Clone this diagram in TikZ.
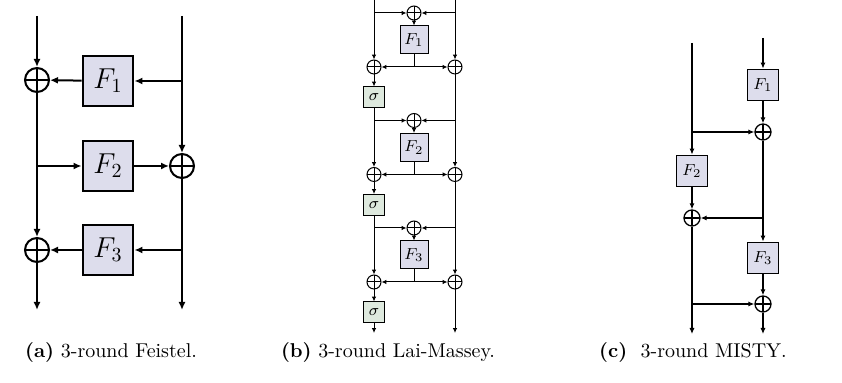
\documentclass[tikz,border=0pt]{standalone}
\usepackage{amsmath}
\usepackage{amssymb}
\usetikzlibrary{arrows.meta}

\definecolor{boxfill}{RGB}{221,221,236}
\definecolor{sigmafill}{RGB}{222,233,222}

\tikzset{
  xorop/.style={circle, draw, inner sep=0pt, minimum size=#1,
    path picture={\draw (path picture bounding box.north) -- (path picture bounding box.south)
      (path picture bounding box.west) -- (path picture bounding box.east);}},
  fbox/.style={draw, fill=boxfill, inner sep=0pt, minimum size=#1},
  sbox/.style={draw, fill=sigmafill, inner sep=0pt, minimum size=#1},
}

\begin{document}
\begin{tikzpicture}[x=0.5pt, y=-0.5pt]
  \useasboundingbox (0,0) rectangle (842,383);

  % (a) Feistel
  \begin{scope}[line width=1pt, >={Latex[length=4pt,width=3.5pt]},
                every node/.append style={font=\Large}]
    \node[xorop=12pt] (fx1) at (37,80) {};
    \node[xorop=12pt] (fxr) at (182,166) {};
    \node[xorop=12pt] (fx3) at (37,250) {};
    \node[fbox=25pt, line width=1.4pt] (ff1) at (108,81) {$F_1$};
    \node[fbox=25pt, line width=1.4pt] (ff2) at (108,166) {$F_2$};
    \node[fbox=25pt, line width=1.4pt] (ff3) at (108,250) {$F_3$};
    \coordinate (ftopL) at (37,16);
    \coordinate (ftopR) at (182,16);
    \coordinate (fbotL) at (37,310);
    \coordinate (fbotR) at (182,310);
    \coordinate (fr1) at (182,81);
    \coordinate (fl2) at (37,166);
    \coordinate (fr3) at (182,250);

    % the two branches
    \draw[->] (ftopL) -- (fx1);
    \draw[->] (fx1) -- (fx3);
    \draw[->] (fx3) -- (fbotL);
    \draw[->] (ftopR) -- (fxr);
    \draw[->] (fxr) -- (fbotR);

    % round functions
    \draw[->] (fr1) -- (ff1);
    \draw[->] (ff1) -- (fx1);
    \draw[->] (fl2) -- (ff2);
    \draw[->] (ff2) -- (fxr);
    \draw[->] (fr3) -- (ff3);
    \draw[->] (ff3) -- (fx3);
  \end{scope}

  % (b) Lai-Massey
  \begin{scope}[line width=0.5pt, >={Latex[length=2.4pt,width=2.2pt]},
                every node/.append style={font=\footnotesize}]
    \foreach \i [evaluate=\i as \y using {13+107.5*(\i-1)}] in {1,2,3} {
      \node[xorop=7pt] (lt\i) at (414,\y) {};
      \node[fbox=14pt, line width=0.5pt] (lf\i) at (414,\y+27) {$F_\i$};
      \node[xorop=7pt] (ll\i) at (374,\y+54) {};
      \node[xorop=7pt] (lr\i) at (455,\y+54) {};
      \node[sbox=10.5pt, line width=0.5pt] (ls\i) at (374,\y+84.5) {$\sigma$};
      \coordinate (la\i) at (374,\y);
      \coordinate (lb\i) at (455,\y);
      \coordinate (lj\i) at (414,\y+54);

      \draw[->] (la\i) -- (lt\i);
      \draw[->] (lb\i) -- (lt\i);
      \draw[->] (lt\i) -- (lf\i);
      \draw (lf\i) -- (lj\i);
      \draw[->] (lj\i) -- (ll\i);
      \draw[->] (lj\i) -- (lr\i);
      \draw[->] (ll\i) -- (ls\i);
    }
    \coordinate (ltopL) at (374,0);
    \coordinate (ltopR) at (455,0);
    \coordinate (lbotL) at (374,333);
    \coordinate (lbotR) at (455,333);

    % left and right branches
    \draw[->] (ltopL) -- (ll1);
    \draw[->] (ls1) -- (ll2);
    \draw[->] (ls2) -- (ll3);
    \draw[->] (ls3) -- (lbotL);
    \draw[->] (ltopR) -- (lr1);
    \draw[->] (lr1) -- (lr2);
    \draw[->] (lr2) -- (lr3);
    \draw[->] (lr3) -- (lbotR);
  \end{scope}

  % (c) MISTY
  \begin{scope}[line width=0.65pt, >={Latex[length=3pt,width=2.6pt]},
                every node/.append style={font=\footnotesize}]
    \node[fbox=15.5pt, line width=0.9pt] (mf1) at (763,85) {$F_1$};
    \node[fbox=15.5pt, line width=0.9pt] (mf2) at (692,171) {$F_2$};
    \node[fbox=15.5pt, line width=0.9pt] (mf3) at (763,258) {$F_3$};
    \node[xorop=8pt] (mx1) at (763,132) {};
    \node[xorop=8pt] (mx2) at (692,218) {};
    \node[xorop=8pt] (mx3) at (763,304) {};
    \coordinate (mtopL) at (692,43);
    \coordinate (mtopR) at (763,38);
    \coordinate (mb1) at (692,132);
    \coordinate (mb2) at (763,218);
    \coordinate (mb3) at (692,304);
    \coordinate (mbotL) at (692,334);
    \coordinate (mbotR) at (763,334);

    \draw[->] (mtopR) -- (mf1);
    \draw[->] (mf1) -- (mx1);
    \draw[->] (mb1) -- (mx1);
    \draw[->] (mtopL) -- (mf2);
    \draw[->] (mf2) -- (mx2);
    \draw[->] (mx1) -- (mf3);
    \draw[->] (mb2) -- (mx2);
    \draw[->] (mf3) -- (mx3);
    \draw[->] (mx2) -- (mbotL);
    \draw[->] (mb3) -- (mx3);
    \draw[->] (mx3) -- (mbotR);
  \end{scope}

  % captions
  \node (capa) at (111,352) {\textbf{(a)} 3-round Feistel.};
  \node (capb) at (388,352) {\textbf{(b)} 3-round Lai-Massey.};
  \node (capc) at (693,352) {\textbf{(c)}\ \ 3-round MISTY.};
\end{tikzpicture}
\end{document}
